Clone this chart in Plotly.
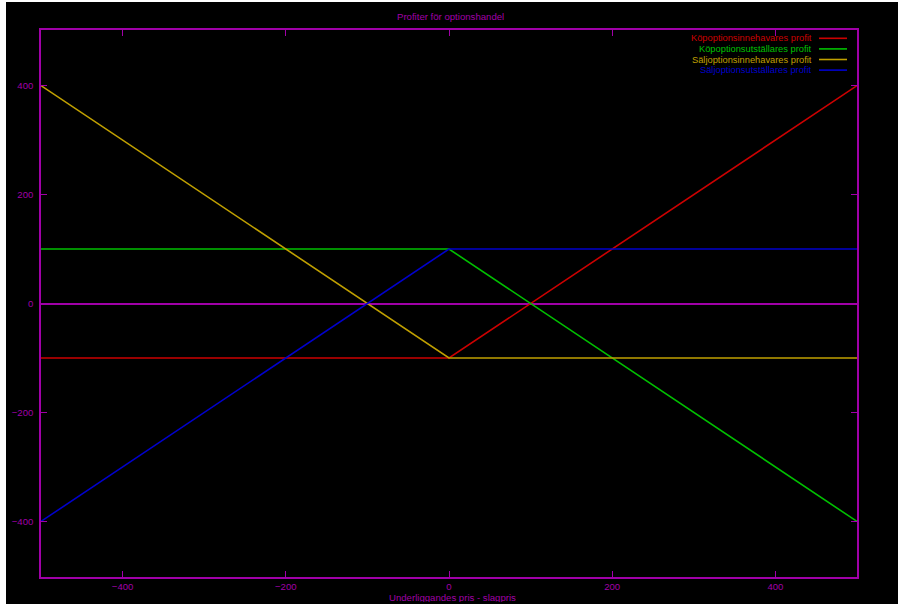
import plotly.graph_objects as go

# Profit at expiry versus (underlying price - strike), premium 100
price_diff = [-500, 0, 500]
call_holder = [-100, -100, 400]
call_writer = [100, 100, -400]
put_holder = [400, -100, -100]
put_writer = [-400, 100, 100]

series_names = [
    "Köpoptionsinnehavares profit",
    "Köpoptionsutställares profit",
    "Säljoptionsinnehavares profit",
    "Säljoptionsutställares profit",
]
series_values = [call_holder, call_writer, put_holder, put_writer]
series_colors = ["#cc0000", "#00c000", "#c0a000", "#0000cc"]

x_ticks = [-400, -200, 0, 200, 400]
y_ticks = [-400, -200, 0, 200, 400]

MAG = "#a000a8"
FONT = "Liberation Sans, Arial, sans-serif"
FS = 9.6
KEY_FS = 9.3

W, H = 899, 604
L, R, T, B = 41, 42, 30, 27
pw, ph = W - L - R, H - T - B


def px(x):
    return (x - L) / pw


def py(y):
    return (H - B - y) / ph


fig = go.Figure()
for name, vals, col in zip(series_names, series_values, series_colors):
    fig.add_trace(go.Scatter(x=price_diff, y=vals, mode="lines", name=name,
                             line=dict(color=col, width=1.6), showlegend=False))

axis_common = dict(showgrid=False, ticks="inside", ticklen=6, tickwidth=1,
                   tickcolor=MAG, linecolor=MAG, linewidth=1.5, showline=True,
                   automargin=False,
                   tickfont=dict(color=MAG, size=FS, family=FONT))

shapes = [
    # screen frame behind the chart
    dict(type="rect", xref="paper", yref="paper", layer="below",
         x0=px(6), x1=px(898), y0=py(604), y1=py(2),
         fillcolor="black", line=dict(width=0)),
]
annotations = [
    dict(text="Profiter för optionshandel", xref="paper", yref="paper",
         x=px(450), y=py(16.5), showarrow=False, xanchor="center", yanchor="middle",
         font=dict(color=MAG, size=FS, family=FONT)),
    dict(text="Underliggandes pris - slagpris", xref="paper", yref="paper",
         x=px(452), y=py(597), showarrow=False, xanchor="center", yanchor="middle",
         height=10, font=dict(color=MAG, size=FS, family=FONT)),
]
# key in the upper right corner: text right-aligned, sample line to the right
for i, (name, col) in enumerate(zip(series_names, series_colors)):
    yy = 38.3 + i * 10.6
    annotations.append(dict(text=name, xref="paper", yref="paper", x=px(813.5), y=py(yy),
                            showarrow=False, xanchor="right", yanchor="middle",
                            height=10, font=dict(color=col, size=KEY_FS, family=FONT)))
    shapes.append(dict(type="line", xref="paper", yref="paper",
                       x0=px(819), x1=px(847), y0=py(yy), y1=py(yy),
                       line=dict(color=col, width=1.6)))

fig.update_layout(
    width=W, height=H,
    margin=dict(l=L, r=R, t=T, b=B),
    paper_bgcolor="white", plot_bgcolor="black",
    xaxis=dict(range=[-500, 500], tickvals=x_ticks, mirror="ticks", zeroline=False,
               ticklabelstandoff=0, **axis_common),
    yaxis=dict(range=[-502, 502], tickvals=y_ticks, mirror="ticks", zeroline=True,
               zerolinecolor=MAG, zerolinewidth=1.6, ticklabelstandoff=4,
               **axis_common),
    yaxis2=dict(range=[-502, 502], tickvals=y_ticks, overlaying="y", side="right",
                showgrid=False, zeroline=False, showline=False, ticks="",
                ticklabelstandoff=8, automargin=False,
                tickfont=dict(color=MAG, size=FS, family=FONT)),
    shapes=shapes, annotations=annotations,
    font=dict(family=FONT, color=MAG),
)

fig.write_html("out.html")
